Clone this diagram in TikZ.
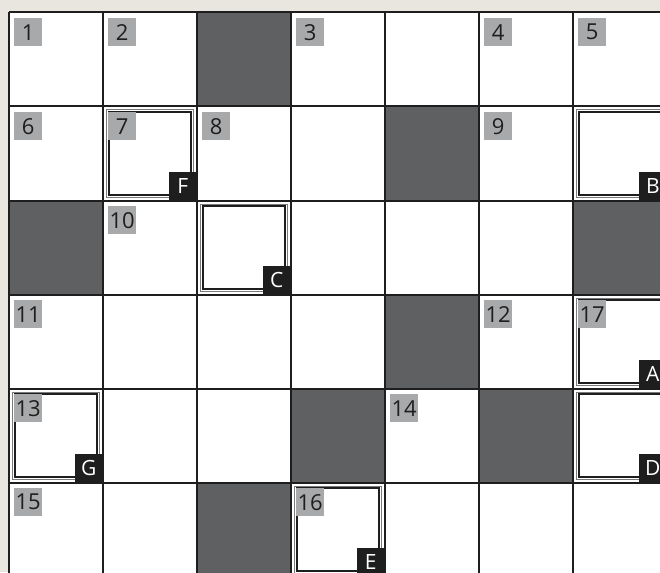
\documentclass[tikz,border=0pt]{standalone}
\usepackage{fontspec}
\setmainfont{Open Sans}
\definecolor{bg}{HTML}{E9E6E0}
\definecolor{darkcell}{HTML}{5F6062}
\definecolor{numgray}{HTML}{A8A9AB}
\definecolor{ink}{HTML}{1E1E1E}
\definecolor{outergray}{HTML}{7A7A7A}
\tikzset{
  numbox/.style={fill=numgray, minimum size=28pt, inner sep=0pt, text=ink,
    font=\fontsize{22}{22}\selectfont, anchor=north west},
  letbox/.style={fill=ink, minimum size=28pt, inner sep=0pt, text=white,
    font=\fontsize{21}{21}\selectfont, anchor=south east},
  gridline/.style={draw=ink, line width=2pt},
  outerframe/.style={draw=outergray, line width=1pt},
  innerframe/.style={draw=ink, line width=1.8pt},
}
\newcommand\mydark[2]{\fill[darkcell] ({9+94*#1},{12.5+94*#2}) rectangle ++(94,94);}
\newcommand\mynum[3]{\node[numbox] (n#3) at ({9+94*#1+5},{12.5+94*#2+5.5}) {#3};}
\newcommand\myletter[3]{\node[letbox] (l#3) at ({9+94*(#1+1)},{12.5+94*(#2+1)}) {#3};}
\newcommand\myframe[2]{%
  \draw[outerframe] ({9+94*#1+3.5},{12.5+94*#2+3.5}) rectangle ++(87,87);
  \draw[innerframe] ({9+94*#1+5.7},{12.5+94*#2+5.7}) rectangle ++(82.6,82.6);}
\begin{document}
\begin{tikzpicture}[x=1pt,y=-1pt]
\useasboundingbox (0,0) rectangle (660,572);
\clip (0,0) rectangle (660,572);
\fill[bg] (0,0) rectangle (660,572);
\fill[white] (9,12.5) rectangle (667.5,670);
% dark cells
\mydark{2}{0}
\mydark{4}{1}
\mydark{0}{2}
\mydark{6}{2}
\mydark{4}{3}
\mydark{3}{4}
\mydark{5}{4}
\mydark{2}{5}
% framed cells
\myframe{1}{1}
\myframe{6}{1}
\myframe{2}{2}
\myframe{6}{3}
\myframe{0}{4}
\myframe{6}{4}
\myframe{3}{5}
% numbers
\mynum{0}{0}{1}
\mynum{1}{0}{2}
\mynum{3}{0}{3}
\mynum{5}{0}{4}
\mynum{6}{0}{5}
\mynum{0}{1}{6}
\mynum{1}{1}{7}
\mynum{2}{1}{8}
\mynum{5}{1}{9}
\mynum{1}{2}{10}
\mynum{0}{3}{11}
\mynum{5}{3}{12}
\mynum{6}{3}{17}
\mynum{0}{4}{13}
\mynum{4}{4}{14}
\mynum{0}{5}{15}
\mynum{3}{5}{16}
% letters
\myletter{1}{1}{F}
\myletter{6}{1}{B}
\myletter{2}{2}{C}
\myletter{6}{3}{A}
\myletter{0}{4}{G}
\myletter{6}{4}{D}
\myletter{3}{5}{E}
% grid
\foreach \k in {0,...,7} {
  \draw[gridline] ({9+94*\k},12.5) -- ({9+94*\k},670);
  \draw[gridline] (9,{12.5+94*\k}) -- (667.5,{12.5+94*\k});
}
\end{tikzpicture}
\end{document}
